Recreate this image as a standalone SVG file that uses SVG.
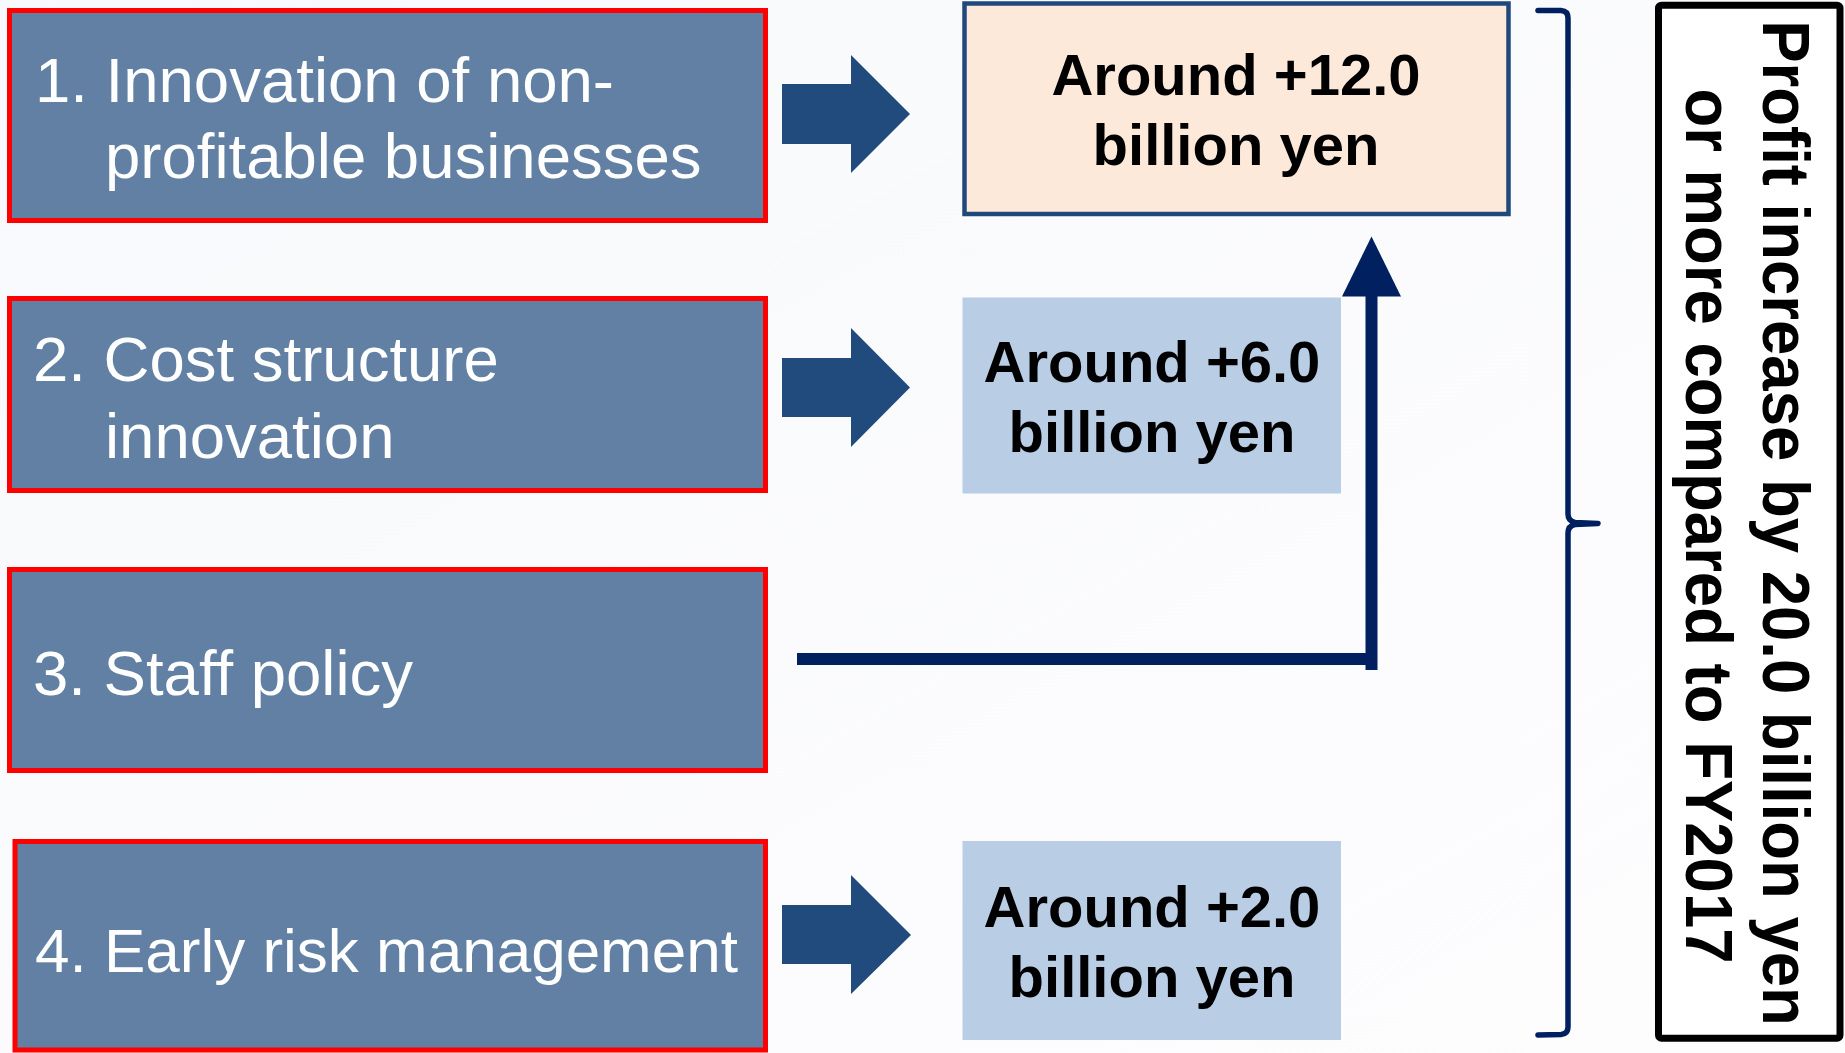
<svg xmlns="http://www.w3.org/2000/svg" width="1845" height="1053" viewBox="0 0 1845 1053">
  <defs>
    <linearGradient id="bg" x1="0" y1="0" x2="1" y2="1">
      <stop offset="0" stop-color="#F8F9FC"/>
      <stop offset="1" stop-color="#FDFDFE"/>
    </linearGradient>
    <style>
      .src { fill: #6180A3; stroke: #FF0000; stroke-width: 5; }
      .srcText { font-family: "Liberation Sans", Arial, sans-serif; font-size: 63.5px; fill: #FFFFFF; }
      .block { fill: #214A7D; }
      .val { font-family: "Liberation Sans", Arial, sans-serif; font-size: 58px; font-weight: bold; fill: #000000; text-anchor: middle; }
      .blue { fill: #B9CDE5; }
      .conn { stroke: #002060; stroke-width: 12; fill: none; }
      .total { font-family: "Liberation Sans", Arial, sans-serif; font-size: 63.5px; font-weight: bold; fill: #000000; text-anchor: middle; }
    </style>
  </defs>
  <rect x="0" y="0" width="1845" height="1053" fill="url(#bg)"/>

  <g id="node-1">
    <rect class="src" x="9.5" y="10.5" width="756" height="210"/>
    <text class="srcText" x="35" y="102">1. Innovation of non-<tspan x="105" y="178">profitable businesses</tspan></text>
  </g>
  <g id="node-2">
    <rect class="src" x="9.5" y="298.5" width="756" height="192"/>
    <text class="srcText" x="33" y="381">2. Cost structure<tspan x="105" y="458">innovation</tspan></text>
  </g>
  <g id="node-3">
    <rect class="src" x="9.5" y="569.5" width="756" height="201"/>
    <text class="srcText" x="33" y="695">3. Staff policy</text>
  </g>
  <g id="node-4">
    <rect class="src" x="15" y="841.5" width="750.5" height="208.5"/>
    <text class="srcText" x="35" y="972" style="font-size:62px">4. Early risk management</text>
  </g>

  <g id="node-value-12">
    <rect x="964.5" y="3.5" width="544" height="210.5" fill="#FDE9D9" stroke="#1F497D" stroke-width="4.5"/>
    <text class="val" x="1236" y="95">Around +12.0</text>
    <text class="val" x="1236" y="165">billion yen</text>
  </g>
  <g id="node-value-6">
    <rect class="blue" x="962.5" y="297.5" width="378.5" height="196"/>
    <text class="val" x="1152" y="382">Around +6.0</text>
    <text class="val" x="1152" y="452">billion yen</text>
  </g>
  <g id="node-value-2">
    <rect class="blue" x="962.5" y="841" width="378.5" height="199"/>
    <text class="val" x="1152" y="927">Around +2.0</text>
    <text class="val" x="1152" y="997">billion yen</text>
  </g>

  <g id="node-total">
    <rect x="1658.5" y="5.2" width="181.5" height="1033" rx="3" fill="#FFFFFF" stroke="#000000" stroke-width="7"/>
    <text class="total" transform="translate(1763,523) rotate(90) scale(1,1.06)">Profit increase by 20.0 billion yen</text>
    <text class="total" transform="translate(1686,526) rotate(90) scale(1,1.06)">or more compared to FY2017</text>
  </g>

  <g id="connectors">
    <polygon class="block" points="782,84 851,84 851,55 910,114 851,173 851,144 782,144"/>
    <polygon class="block" points="782,358 851,358 851,328 910,387.5 851,447 851,417 782,417"/>
    <polygon class="block" points="782,905 851,905 851,875 911,935 851,994 851,964 782,964"/>
    <line class="conn" x1="797" y1="659" x2="1377" y2="659"/>
    <line class="conn" x1="1371.5" y1="670" x2="1371.5" y2="294"/>
    <polygon fill="#002060" points="1371.5,236.5 1401,296.5 1342,296.5"/>
    <path d="M1538,10.5 L1561,10.5 Q1568,11 1568,18 L1568,514 Q1568,521 1575,522.5 L1598,523.5 L1575,524.5 Q1568,526 1568,533 L1568,1027 Q1568,1034 1561,1034.5 L1538,1035" fill="none" stroke="#002060" stroke-width="5.5" stroke-linecap="round" stroke-linejoin="round"/>
  </g>
</svg>
